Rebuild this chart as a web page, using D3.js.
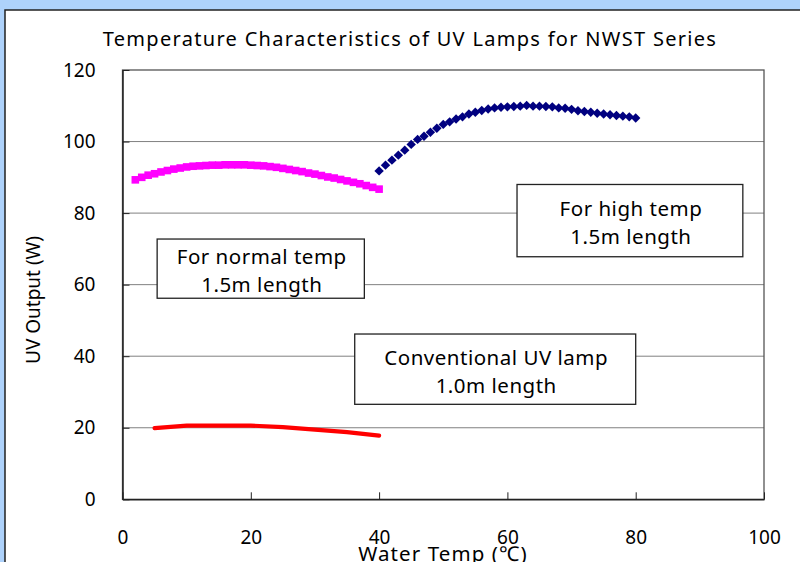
<!DOCTYPE html>
<html>
<head>
<meta charset="utf-8">
<script src="https://cdn.jsdelivr.net/npm/d3@7"></script>
<style>
  html, body { margin: 0; padding: 0; background: #aed2fb; }
  svg { display: block; }
  text { font-family: "Noto Sans", "Noto Sans CJK JP", sans-serif; fill: #000; }
</style>
</head>
<body>
<svg id="chart" width="800" height="562"></svg>
<script>
// 水温 (°C)
const normalTemps = [2,3,4,5,6,7,8,9,10,11,12,13,14,15,16,17,18,19,20,21,22,23,24,25,26,27,28,29,30,31,32,33,34,35,36,37,38,39,40];
const normalOutput = [89.3,90.0,90.6,91.0,91.5,91.9,92.3,92.6,92.9,93.1,93.2,93.3,93.4,93.4,93.5,93.5,93.5,93.5,93.4,93.3,93.2,93.0,92.8,92.5,92.2,91.9,91.6,91.2,90.9,90.5,90.1,89.8,89.4,89.0,88.6,88.2,87.7,87.2,86.7];

const highTemps = [40,41,42,43,44,45,46,47,48,49,50,51,52,53,54,55,56,57,58,59,60,61,62,63,64,65,66,67,68,69,70,71,72,73,74,75,76,77,78,79,80];
const highOutput = [91.8,93.4,94.8,96.2,97.6,99.2,100.6,101.5,102.6,103.7,104.8,105.5,106.3,106.9,107.7,108.2,108.7,109.1,109.4,109.6,109.7,109.8,109.9,110.1,109.9,109.9,109.8,109.7,109.4,109.3,109.0,108.6,108.4,108.2,107.9,107.7,107.5,107.3,107.1,106.9,106.6];

const convTemps = [5,10,15,20,25,30,35,40];
const convOutput = [19.9,20.6,20.6,20.6,20.2,19.5,18.8,17.8];

const xTicks = [0,20,40,60,80,100];
const yTicks = [0,20,40,60,80,100,120];

const title = 'Temperature Characteristics of UV Lamps for NWST Series';
const xTitle = 'Water Temp (℃)';
const yTitle = 'UV Output (W)';

// 注記ボックス (位置はデータ座標)
const notes = [
  {lines: ['For high temp', '1.5m length'], x0: 61.5, x1: 96.7, y0: 88.0, y1: 67.8},
  {lines: ['For normal temp', '1.5m length'], x0: 5.4, x1: 37.7, y0: 72.75, y1: 56.2},
  {lines: ['Conventional UV lamp', '1.0m length'], x0: 36.2, x1: 80.0, y0: 46.2, y1: 26.55}
];

const svg = d3.select('#chart');

// 白いチャート領域
svg.append('rect')
  .attr('x', 5).attr('y', 10)
  .attr('width', 820).attr('height', 580)
  .attr('fill', '#fff')
  .attr('stroke', '#222')
  .attr('stroke-width', 1.5);

const x = d3.scaleLinear().domain([0, 100]).range([122.5, 764]);
const y = d3.scaleLinear().domain([0, 120]).range([499.3, 70]);

// グリッド線
svg.append('g')
  .selectAll('line')
  .data(yTicks.filter(d => d > 0 && d < 120))
  .enter()
  .append('line')
  .attr('x1', x(0)).attr('x2', x(100))
  .attr('y1', d => y(d)).attr('y2', d => y(d))
  .attr('stroke', '#808080')
  .attr('stroke-width', 1);

// 枠
svg.append('rect')
  .attr('x', x(0)).attr('y', y(120))
  .attr('width', x(100) - x(0)).attr('height', y(0) - y(120))
  .attr('fill', 'none')
  .attr('stroke', '#555')
  .attr('stroke-width', 1.3);

// x軸
const xAxis = svg.append('g')
  .attr('transform', `translate(0,${y(0)})`)
  .call(d3.axisBottom(x).tickValues(xTicks).tickSizeInner(-7).tickSizeOuter(0).tickPadding(31));
xAxis.select('.domain').attr('stroke', '#222').attr('stroke-width', 1.5);
xAxis.selectAll('.tick line').attr('stroke', '#222');
xAxis.selectAll('.tick text').attr('font-size', 19).attr('font-family', null);

// y軸
const yAxis = svg.append('g')
  .attr('transform', `translate(${x(0)},0)`)
  .call(d3.axisLeft(y).tickValues(yTicks).tickSizeInner(-7).tickSizeOuter(0).tickPadding(27));
yAxis.select('.domain').attr('stroke', '#222').attr('stroke-width', 1.5);
yAxis.selectAll('.tick line').attr('stroke', '#222');
yAxis.selectAll('.tick text').attr('font-size', 19).attr('font-family', null);

// 従来ランプ (赤線)
svg.append('path')
  .datum(convTemps.map((t, i) => [t, convOutput[i]]))
  .attr('fill', 'none')
  .attr('stroke', '#ff0000')
  .attr('stroke-width', 4.2)
  .attr('stroke-linecap', 'round')
  .attr('d', d3.line().x(d => x(d[0])).y(d => y(d[1])));

// 常温用 (マゼンタ四角)
svg.append('g')
  .selectAll('rect')
  .data(normalTemps.map((t, i) => [t, normalOutput[i]]))
  .enter()
  .append('rect')
  .attr('x', d => x(d[0]) - 3.8)
  .attr('y', d => y(d[1]) - 3.8)
  .attr('width', 7.6).attr('height', 7.6)
  .attr('fill', '#ff00ff');

// 高温用 (紺ひし形)
svg.append('g')
  .selectAll('path')
  .data(highTemps.map((t, i) => [t, highOutput[i]]))
  .enter()
  .append('path')
  .attr('transform', d => `translate(${x(d[0])},${y(d[1])})`)
  .attr('d', 'M0,-4.7L4.7,0L0,4.7L-4.7,0Z')
  .attr('fill', '#000080');

// 注記
const note = svg.append('g')
  .selectAll('g')
  .data(notes)
  .enter()
  .append('g');

note.append('rect')
  .attr('x', d => x(d.x0)).attr('y', d => y(d.y0))
  .attr('width', d => x(d.x1) - x(d.x0))
  .attr('height', d => y(d.y1) - y(d.y0))
  .attr('fill', '#fff')
  .attr('stroke', '#222')
  .attr('stroke-width', 1.3);

note.each(function(d) {
  const cx = (x(d.x0) + x(d.x1)) / 2;
  const mid = (y(d.y0) + y(d.y1)) / 2;
  d3.select(this).selectAll('text')
    .data(d.lines)
    .enter()
    .append('text')
    .attr('x', cx + 1)
    .attr('y', (s, i) => mid - 4.5 + i * 28.3)
    .attr('text-anchor', 'middle')
    .attr('font-size', 20.5)
    .attr('letter-spacing', 0.5)
    .text(s => s);
});

// タイトル
svg.append('text')
  .attr('x', 410).attr('y', 46)
  .attr('text-anchor', 'middle')
  .attr('font-size', 20)
  .attr('letter-spacing', 1.3)
  .text(title);

svg.append('text')
  .attr('x', 443).attr('y', 561)
  .attr('text-anchor', 'middle')
  .attr('font-size', 20.5)
  .attr('letter-spacing', 1.1)
  .text(xTitle);

svg.append('text')
  .attr('transform', 'translate(40,300) rotate(-90)')
  .attr('text-anchor', 'middle')
  .attr('font-size', 19)
  .text(yTitle);
</script>
</body>
</html>
